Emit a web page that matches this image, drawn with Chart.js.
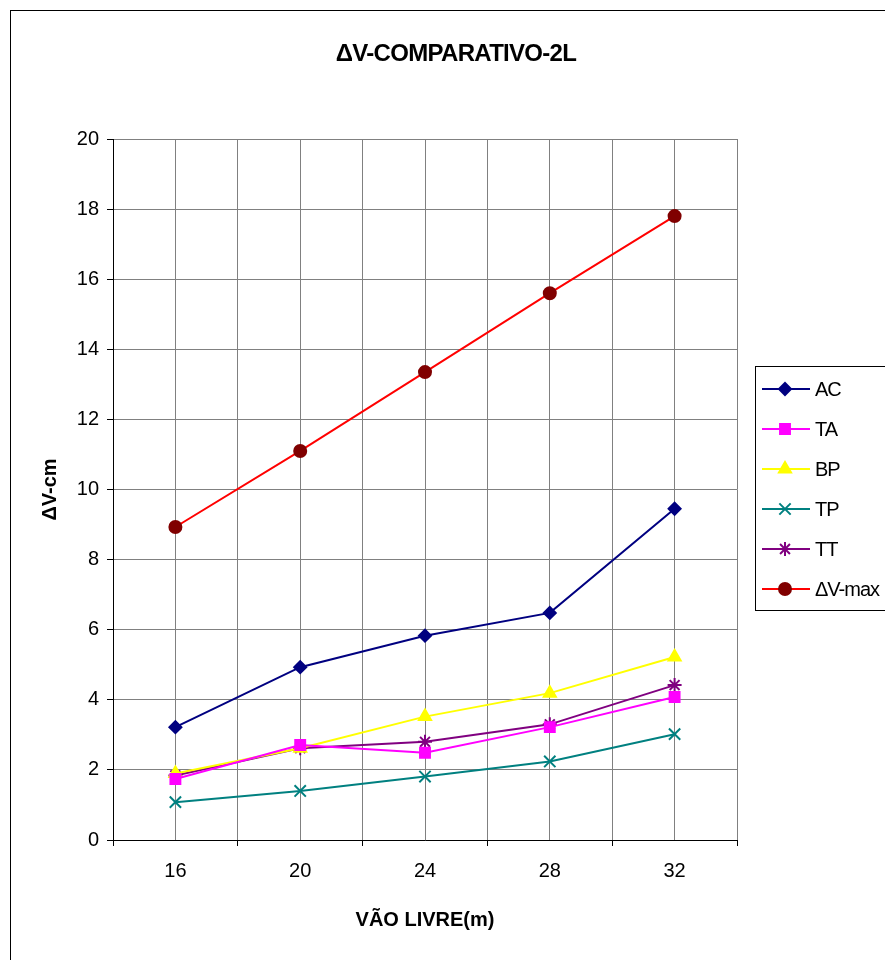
<!DOCTYPE html>
<html>
<head>
<meta charset="utf-8">
<script src="https://cdn.jsdelivr.net/npm/chart.js@4/dist/chart.umd.min.js"></script>
<style>
  html, body { margin: 0; padding: 0; background: #fff; }
  #wrap { width: 885px; height: 960px; }
</style>
</head>
<body>
<div id="wrap"><canvas id="chart"></canvas></div>
<script>
// --- data ---
const spans = [16, 20, 24, 28, 32];
const acValues = [3.22, 4.93, 5.83, 6.48, 9.45];
const taValues = [1.74, 2.71, 2.49, 3.22, 4.08];
const bpValues = [1.9, 2.62, 3.52, 4.19, 5.22];
const tpValues = [1.08, 1.4, 1.81, 2.24, 3.02];
const ttValues = [1.84, 2.62, 2.8, 3.3, 4.42];
const dvMaxValues = [8.93, 11.1, 13.35, 15.6, 17.8];
const yTicks = [0, 2, 4, 6, 8, 10, 12, 14, 16, 18, 20];

const FONT = 'Arial, "Liberation Sans", sans-serif';

const toPoints = vals => vals.map((v, i) => ({ x: spans[i], y: v }));

const series = [
    { label: 'AC', data: acValues, line: '#000080', fill: '#000080', style: 'rectRot', r: 6 },
    { label: 'TA', data: taValues, line: '#ff00ff', fill: '#ff00ff', style: 'rect', r: 7 },
    { label: 'BP', data: bpValues, line: '#ffff00', fill: '#ffff00', style: 'triangle', r: 7 },
    { label: 'TP', data: tpValues, line: '#008080', fill: '#008080', style: 'crossRot', r: 8 },
    { label: 'TT', data: ttValues, line: '#800080', fill: '#800080', style: 'star', r: 7 },
    { label: '\u0394V-max', data: dvMaxValues, line: '#ff0000', fill: '#800000', style: 'circle', r: 6 }
];

// frame, title and legend box drawn on top of the chart
const decorations = {
    id: 'decorations',
    afterDraw(chart) {
        const ctx = chart.ctx;
        ctx.save();
        // outer frame (only left/top edges visible)
        ctx.strokeStyle = '#000';
        ctx.lineWidth = 1;
        ctx.strokeRect(10.5, 10.5, 1000, 1000);

        // title
        ctx.fillStyle = '#000';
        ctx.font = 'bold 24px ' + FONT;
        ctx.textAlign = 'center';
        ctx.textBaseline = 'middle';
        ctx.letterSpacing = '-0.7px';
        ctx.fillText('\u0394V-COMPARATIVO-2L', 456, 54);
        ctx.letterSpacing = '0px';

        // legend box
        ctx.strokeStyle = '#000';
        ctx.strokeRect(755.5, 366.5, 200, 244);
        ctx.font = '20px ' + FONT;
        ctx.textAlign = 'left';
        chart.data.datasets.forEach((ds, i) => {
            const y = 389 + i * 40;
            ctx.strokeStyle = ds.borderColor;
            ctx.lineWidth = 2;
            ctx.beginPath();
            ctx.moveTo(762, y);
            ctx.lineTo(810, y);
            ctx.stroke();
            ctx.fillStyle = ds.pointBackgroundColor;
            ctx.strokeStyle = ds.pointBorderColor;
            ctx.lineWidth = 2;
            Chart.helpers.drawPoint(ctx, { pointStyle: ds.pointStyle, radius: ds.pointRadius, rotation: 0, borderWidth: 2 }, 785, y);
            ctx.fillStyle = '#000';
            ctx.letterSpacing = '-1px';
            ctx.fillText(ds.label, 815, y + 1);
            ctx.letterSpacing = '0px';
        });
        ctx.restore();
    }
};

new Chart(document.getElementById('chart'), {
    type: 'line',
    data: {
        datasets: series.map(s => ({
            label: s.label,
            data: toPoints(s.data),
            borderColor: s.line,
            backgroundColor: s.fill,
            borderWidth: 2,
            pointStyle: s.style,
            pointRadius: s.r,
            pointHoverRadius: s.r,
            pointBackgroundColor: s.fill,
            pointBorderColor: s.fill,
            pointBorderWidth: 2,
            tension: 0,
            fill: false
        }))
    },
    options: {
        responsive: true,
        maintainAspectRatio: false,
        animation: false,
        layout: { padding: { left: 0, top: 139, right: 148, bottom: 0 } },
        plugins: {
            legend: { display: false },
            title: { display: false },
            tooltip: { enabled: false }
        },
        scales: {
            x: {
                type: 'linear',
                min: 14,
                max: 34,
                afterFit: s => { s.height = 120; },
                afterBuildTicks: s => { s.ticks = [14, 16, 18, 20, 22, 24, 26, 28, 30, 32, 34].map(v => ({ value: v })); },
                ticks: {
                    color: '#000',
                    font: { family: FONT, size: 20 },
                    padding: 13,
                    maxRotation: 0,
                    autoSkip: false,
                    callback: v => spans.includes(v) ? String(v) : ''
                },
                grid: {
                    color: '#808080',
                    lineWidth: 1,
                    tickLength: 6,
                    tickColor: c => (c.tick && (c.tick.value - 14) % 4 === 0) ? '#000' : 'rgba(0,0,0,0)'
                },
                border: { color: '#000', width: 1 },
                title: {
                    display: true,
                    text: 'V\u00c3O LIVRE(m)',
                    color: '#000',
                    font: { family: FONT, size: 20, weight: 'bold' },
                    padding: { top: 0, bottom: 28 }
                }
            },
            y: {
                type: 'linear',
                min: 0,
                max: 20,
                afterFit: s => { s.width = 113; },
                afterBuildTicks: s => { s.ticks = yTicks.map(v => ({ value: v })); },
                ticks: {
                    color: '#000',
                    font: { family: FONT, size: 20 },
                    padding: 8
                },
                grid: {
                    color: '#808080',
                    lineWidth: 1,
                    tickLength: 6,
                    tickColor: '#000'
                },
                border: { color: '#000', width: 1 },
                title: {
                    display: true,
                    text: '\u0394V-cm',
                    color: '#000',
                    font: { family: FONT, size: 20, weight: 'bold' },
                    padding: { top: 38, bottom: 0 }
                }
            }
        }
    },
    plugins: [decorations]
});
</script>
</body>
</html>
